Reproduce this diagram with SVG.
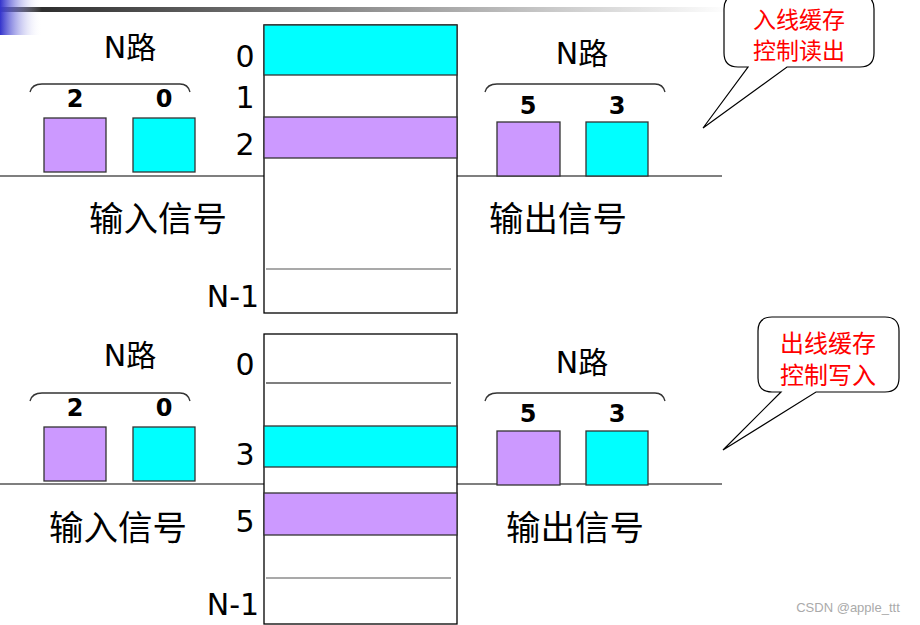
<svg xmlns="http://www.w3.org/2000/svg" width="920" height="625" viewBox="0 0 920 625">
<defs>
<linearGradient id="bar" x1="0" y1="0" x2="1" y2="0">
<stop offset="0" stop-color="#222"/><stop offset="1" stop-color="#fff"/>
</linearGradient>
<linearGradient id="blue" x1="0" y1="0" x2="1" y2="0">
<stop offset="0" stop-color="#3333cc"/><stop offset="1" stop-color="#fff" stop-opacity="0"/>
</linearGradient>
<style>
.lbl{font-family:"DejaVu Sans","Noto Sans CJK SC",sans-serif;font-size:30px;fill:#000;text-anchor:middle}
.num{font-family:"DejaVu Sans",sans-serif;font-size:24px;font-weight:bold;fill:#000;text-anchor:middle}
.cn{font-family:"Noto Sans CJK SC",sans-serif;font-size:34.5px;fill:#000}
.red{font-family:"Noto Sans CJK SC",sans-serif;font-size:24px;fill:#ff0000;text-anchor:middle}
.red2{font-family:"Noto Sans CJK SC",sans-serif;font-size:23px;fill:#ff0000;text-anchor:middle}
.pu{fill:#cc99ff;stroke:#333;stroke-width:1.3}
.cy{fill:#00ffff;stroke:#333;stroke-width:1.3}
.ln{stroke:#000;stroke-width:1.2;fill:none}
.gl{stroke:#555;stroke-width:1.2;fill:none}
.brace{stroke:#333;stroke-width:1.3;fill:none}
.call{fill:#fff;stroke:#000;stroke-width:1.2}
</style>
</defs>
<rect x="0" y="7" width="730" height="5" fill="url(#bar)"/>
<rect x="0" y="0" width="42" height="35" fill="url(#blue)"/>

<g id="connectors">
<line class="ln" x1="0" y1="176" x2="264" y2="176"/>
<line class="ln" x1="457" y1="176" x2="722" y2="176"/>
<line class="ln" x1="0" y1="484" x2="264" y2="484"/>
<line class="ln" x1="457" y1="484" x2="722" y2="484"/>
</g>

<g id="buffer-top">
<rect x="264" y="25" width="193" height="288" fill="#fff" stroke="#000" stroke-width="1.3"/>
<rect class="cy" x="264" y="25" width="193" height="50"/>
<rect class="pu" x="264" y="117" width="193" height="41"/>
<line class="gl" x1="266" y1="269" x2="451" y2="269"/>
<text class="lbl" x="245" y="67">0</text>
<text class="lbl" x="245" y="108">1</text>
<text class="lbl" x="245" y="155">2</text>
<text class="lbl" x="233" y="307">N-1</text>
</g>

<g id="buffer-bottom">
<rect x="264" y="334" width="193" height="290" fill="#fff" stroke="#000" stroke-width="1.3"/>
<line class="ln" x1="266" y1="383" x2="451" y2="383"/>
<rect class="cy" x="264" y="426" width="193" height="41"/>
<rect class="pu" x="264" y="493" width="193" height="42"/>
<line class="gl" x1="266" y1="578" x2="451" y2="578"/>
<text class="lbl" x="245" y="375">0</text>
<text class="lbl" x="245" y="465">3</text>
<text class="lbl" x="245" y="532">5</text>
<text class="lbl" x="233" y="615">N-1</text>
</g>

<g id="input-top">
<text class="lbl" x="130" y="58">N路</text>
<path class="brace" d="M30,92 Q32,84 42,84 L180,84 Q188,84 190,92"/>
<text class="num" x="75" y="107">2</text>
<text class="num" x="164" y="107">0</text>
<rect class="pu" x="44" y="118" width="62" height="54"/>
<rect class="cy" x="133" y="118" width="62" height="54"/>
<text class="cn" x="89" y="231">输入信号</text>
</g>

<g id="output-top">
<text class="lbl" x="582" y="64">N路</text>
<path class="brace" d="M485,92 Q487,84 497,84 L655,84 Q663,84 665,92"/>
<text class="num" x="528" y="114">5</text>
<text class="num" x="617" y="114">3</text>
<rect class="pu" x="497" y="122" width="63" height="54"/>
<rect class="cy" x="586" y="122" width="62" height="54"/>
<text class="cn" x="489" y="231">输出信号</text>
</g>

<g id="input-bottom">
<text class="lbl" x="130" y="366">N路</text>
<path class="brace" d="M30,401 Q32,393 42,393 L180,393 Q188,393 190,401"/>
<text class="num" x="75" y="416">2</text>
<text class="num" x="164" y="416">0</text>
<rect class="pu" x="44" y="427" width="62" height="54"/>
<rect class="cy" x="133" y="427" width="62" height="54"/>
<text class="cn" x="49" y="540">输入信号</text>
</g>

<g id="output-bottom">
<text class="lbl" x="582" y="373">N路</text>
<path class="brace" d="M485,401 Q487,393 497,393 L655,393 Q663,393 665,401"/>
<text class="num" x="528" y="422">5</text>
<text class="num" x="617" y="422">3</text>
<rect class="pu" x="497" y="431" width="63" height="54"/>
<rect class="cy" x="586" y="431" width="62" height="54"/>
<text class="cn" x="506" y="540">输出信号</text>
</g>

<g id="callout-top">
<path class="call" d="M738,-5 L860,-5 Q874,-5 874,9 L874,53 Q874,67 860,67 L787,67 L703,128 L748,67 L738,67 Q724,67 724,53 L724,9 Q724,-5 738,-5 Z"/>
<text class="red2" x="799" y="28">入线缓存</text>
<text class="red2" x="799" y="59">控制读出</text>
</g>

<g id="callout-bottom">
<path class="call" d="M772,317 L885,317 Q899,317 899,331 L899,378 Q899,392 885,392 L816,392 L723,450 L781,392 L772,392 Q758,392 758,378 L758,331 Q758,317 772,317 Z"/>
<text class="red" x="828" y="352">出线缓存</text>
<text class="red" x="828" y="384">控制写入</text>
</g>

<text x="848" y="612" font-family="Liberation Sans,sans-serif" font-size="13" fill="#aaa" text-anchor="middle">CSDN @apple_ttt</text>
</svg>
